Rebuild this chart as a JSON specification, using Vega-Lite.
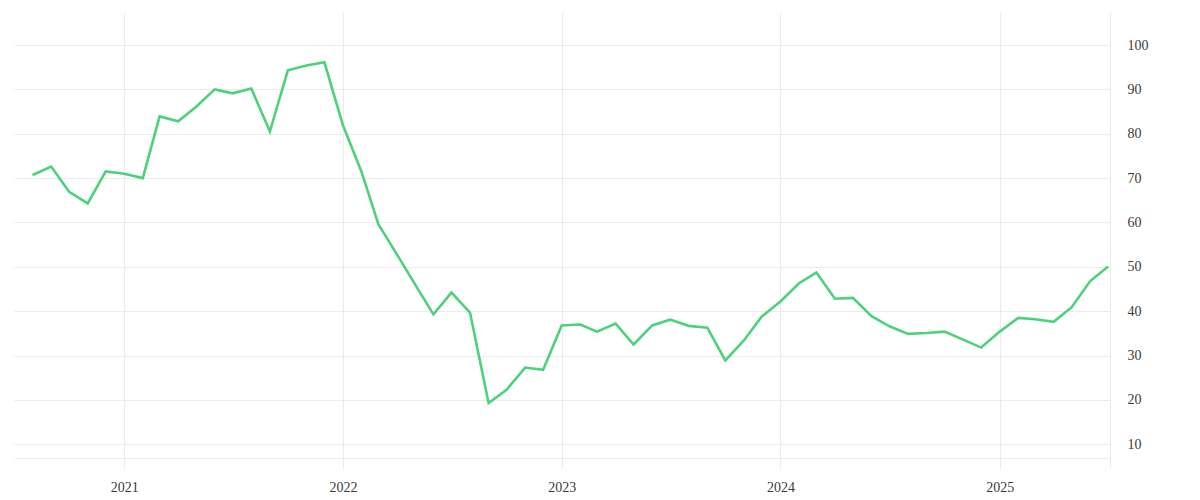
{
  "$schema": "https://vega.github.io/schema/vega-lite/v6.json",
  "autosize": {"type": "none"},
  "padding": {"left": 14, "top": 12, "right": 90, "bottom": 32},
  "width": 1096,
  "height": 456,
  "background": "#ffffff",
  "config": {
    "view": {"stroke": null},
    "font": "Liberation Serif"
  },
  "data": {
    "values": [
      {"date": "2020-08-01", "value": 70.7},
      {"date": "2020-09-01", "value": 72.6},
      {"date": "2020-10-01", "value": 66.9},
      {"date": "2020-11-01", "value": 64.3},
      {"date": "2020-12-01", "value": 71.5},
      {"date": "2021-01-01", "value": 71.0},
      {"date": "2021-02-01", "value": 70.0},
      {"date": "2021-03-01", "value": 83.9},
      {"date": "2021-04-01", "value": 82.8},
      {"date": "2021-05-01", "value": 86.1},
      {"date": "2021-06-01", "value": 90.0},
      {"date": "2021-07-01", "value": 89.1},
      {"date": "2021-08-01", "value": 90.2},
      {"date": "2021-09-01", "value": 80.5},
      {"date": "2021-10-01", "value": 94.3},
      {"date": "2021-11-01", "value": 95.4},
      {"date": "2021-12-01", "value": 96.1},
      {"date": "2022-01-01", "value": 81.9},
      {"date": "2022-02-01", "value": 71.4},
      {"date": "2022-03-01", "value": 59.6},
      {"date": "2022-04-01", "value": 52.8},
      {"date": "2022-05-01", "value": 46.1},
      {"date": "2022-06-01", "value": 39.3},
      {"date": "2022-07-01", "value": 44.2},
      {"date": "2022-08-01", "value": 39.7},
      {"date": "2022-09-01", "value": 19.3},
      {"date": "2022-10-01", "value": 22.3},
      {"date": "2022-11-01", "value": 27.3},
      {"date": "2022-12-01", "value": 26.8},
      {"date": "2023-01-01", "value": 36.8},
      {"date": "2023-02-01", "value": 37.0},
      {"date": "2023-03-01", "value": 35.4},
      {"date": "2023-04-01", "value": 37.2},
      {"date": "2023-05-01", "value": 32.5},
      {"date": "2023-06-01", "value": 36.8},
      {"date": "2023-07-01", "value": 38.1},
      {"date": "2023-08-01", "value": 36.7},
      {"date": "2023-09-01", "value": 36.3},
      {"date": "2023-10-01", "value": 28.9},
      {"date": "2023-11-01", "value": 33.4},
      {"date": "2023-12-01", "value": 38.8},
      {"date": "2024-01-01", "value": 42.2},
      {"date": "2024-02-01", "value": 46.3},
      {"date": "2024-03-01", "value": 48.7},
      {"date": "2024-04-01", "value": 42.8},
      {"date": "2024-05-01", "value": 43.0},
      {"date": "2024-06-01", "value": 38.9},
      {"date": "2024-07-01", "value": 36.6},
      {"date": "2024-08-01", "value": 34.9},
      {"date": "2024-09-01", "value": 35.1},
      {"date": "2024-10-01", "value": 35.4},
      {"date": "2024-11-01", "value": 33.6},
      {"date": "2024-12-01", "value": 31.8},
      {"date": "2025-01-01", "value": 35.4},
      {"date": "2025-02-01", "value": 38.5},
      {"date": "2025-03-01", "value": 38.2},
      {"date": "2025-04-01", "value": 37.6},
      {"date": "2025-05-01", "value": 40.9},
      {"date": "2025-06-01", "value": 46.8},
      {"date": "2025-07-01", "value": 50.1}
    ]
  },
  "mark": {"type": "line", "color": "#4ed17b", "strokeWidth": 2.6, "clip": true},
  "encoding": {
    "x": {
      "field": "date",
      "type": "temporal",
      "scale": {"domain": ["2020-07-01", "2025-07-04"], "nice": false},
      "axis": {
        "title": null,
        "format": "%Y",
        "tickCount": {"interval": "year", "step": 1},
        "grid": true,
        "gridColor": "#ebebeb",
        "gridWidth": 1,
        "domain": true,
        "domainColor": "#ebebeb",
        "offset": -10,
        "ticks": false,
        "labelPadding": 22,
        "labelFontSize": 14,
        "labelColor": "#3a3a3a",
        "labelFont": "Liberation Serif"
      }
    },
    "y": {
      "field": "value",
      "type": "quantitative",
      "scale": {"domain": [4.66, 107.44], "nice": false, "zero": false},
      "axis": {
        "title": null,
        "orient": "right",
        "values": [10, 20, 30, 40, 50, 60, 70, 80, 90, 100],
        "grid": true,
        "gridColor": "#ebebeb",
        "gridWidth": 1,
        "domain": true,
        "domainColor": "#ebebeb",
        "ticks": false,
        "labelPadding": 17,
        "labelFontSize": 14,
        "labelColor": "#3a3a3a",
        "labelFont": "Liberation Serif"
      }
    }
  }
}
